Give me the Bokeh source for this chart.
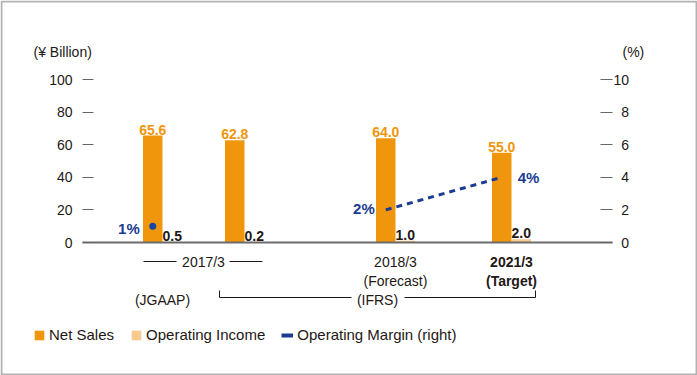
from bokeh.plotting import figure
from bokeh.models import (Range1d, LinearAxis, FixedTicker, Label, Legend, LegendItem, BoxAnnotation,
                          ColumnDataSource, CDSView, IndexFilter, CustomJSTickFormatter)
from bokeh.core.properties import value
from bokeh.embed import file_html
from bokeh.resources import INLINE

# ---------------- data ----------------
categories = ["2017/3 (JGAAP)", "2017/3 (IFRS)", "2018/3 (Forecast)", "2021/3 (Target)"]
net_sales = [65.6, 62.8, 64.0, 55.0]            # ¥ Billion
operating_income = [0.5, 0.2, 1.0, 2.0]         # ¥ Billion
operating_margin = [1.0, float("nan"), 2.0, 4.0]  # %
net_sales_labels = ["65.6", "62.8", "64.0", "55.0"]
op_income_labels = ["0.5", "0.2", "1.0", "2.0"]
margin_labels = ["1%", "", "2%", "4%"]
left_ticks = [0, 20, 40, 60, 80, 100]
right_ticks = [0, 2, 4, 6, 8, 10]
period_labels = ["2017/3", "2018/3", "2021/3"]
period_notes = ["(Forecast)", "(Target)"]
standard_labels = ["(JGAAP)", "(IFRS)"]
legend_labels = ["Net Sales", "Operating Income", "Operating Margin (right)"]
left_unit = "(¥ Billion)"
right_unit = "(%)"

# ---------------- layout / style ----------------
W, H = 697, 375
AXIS_L, AXIS_R = 82, 612            # x of the two value axes
ZERO_PX, TOP_PX = 242, 79           # pixel rows of 0 and 100 on the left axis
ppu = (ZERO_PX - TOP_PX) / 100.0
slot_x = [162, 244, 395, 511]       # group centres (x units = px)
bar_w = 19.5
ORANGE = "#F0960C"
LIGHT = "#F8C98C"
BLUE = "#1B3C92"
DOT = "#1646A4"
TXT = "#231815"
FONT = "Liberation Sans"


def dy(px_below_zero):
    return -px_below_zero / ppu


y_start = -(H - ZERO_PX) / ppu
y_end = ZERO_PX / ppu

p = figure(width=W, height=H, output_backend="svg", toolbar_location=None,
           x_range=Range1d(0, W), y_range=Range1d(y_start, y_end),
           x_axis_location=None, y_axis_location=None,
           min_border_left=0, min_border_right=0, min_border_top=0, min_border_bottom=0)
p.extra_y_ranges = {"pct": Range1d(y_start / 10.0, y_end / 10.0)}
p.grid.visible = False
p.outline_line_color = None
p.background_fill_color = "white"
p.border_fill_color = "white"


def style_axis(ax, tick_in, standoff):
    ax.axis_line_color = None
    ax.major_tick_in = tick_in
    ax.major_tick_out = 0
    ax.minor_tick_line_color = None
    ax.major_tick_line_color = "#666666"
    ax.major_label_standoff = standoff
    ax.major_label_text_font = FONT
    ax.major_label_text_font_size = "14px"
    ax.major_label_text_color = TXT


la = LinearAxis(ticker=FixedTicker(ticks=left_ticks), fixed_location=AXIS_L)
style_axis(la, 11, 10)
p.add_layout(la, "left")

ra = LinearAxis(y_range_name="pct", ticker=FixedTicker(ticks=right_ticks), fixed_location=AXIS_R,
                formatter=CustomJSTickFormatter(code="return (tick < 10 ? '\u2007' : '') + tick;"))
style_axis(ra, 12, 1)
p.add_layout(ra, "right")

# outer frame of the picture
p.add_layout(BoxAnnotation(left=1, right=W - 1, top=y_end - 1 / ppu, bottom=y_start + 1 / ppu,
                           fill_color=None, line_color="#000000", line_width=2, level="overlay"))

# bars
src = ColumnDataSource(dict(
    cat=categories,
    x_ns=[s - bar_w / 2 for s in slot_x],
    x_oi=[s + bar_w / 2 for s in slot_x],
    ns=net_sales, oi=operating_income, margin=operating_margin,
    ns_lab=net_sales_labels, oi_lab=op_income_labels, m_lab=margin_labels,
))
r_ns = p.vbar(x="x_ns", top="ns", bottom=0, width=bar_w, source=src,
              fill_color=ORANGE, line_color=None)
r_oi = p.vbar(x="x_oi", top="oi", bottom=0, width=bar_w, source=src,
              fill_color=LIGHT, line_color=None)

# baseline between the two axes
p.segment(x0=[AXIS_L], y0=[0], x1=[AXIS_R], y1=[0], line_color="#6b6b6b", line_width=2)

# margin line + dot
p.line(x="x_ns", y="margin", source=src, y_range_name="pct",
       line_color=BLUE, line_width=3, line_dash="6 5")
p.scatter(x="x_ns", y="margin", source=src, y_range_name="pct", size=7,
          fill_color=DOT, line_color=None, view=CDSView(filter=IndexFilter([0])))
# legend proxy (solid swatch); NaN point so nothing is drawn in the plot
r_leg_line = p.line(x=[float("nan")], y=[float("nan")], line_color=BLUE, line_width=4,
                    line_dash="solid", line_cap="butt")

# value labels
p.text(x="x_ns", y="ns", text="ns_lab", source=src, text_align="center", text_baseline="bottom",
       y_offset=-1, text_font=value(FONT), text_font_style="bold", text_font_size="14px",
       text_color=ORANGE)
p.text(x="x_oi", y="oi", text="oi_lab", source=src, text_align="center", text_baseline="bottom",
       y_offset=-1, text_font=value(FONT), text_font_style="bold", text_font_size="14px",
       text_color=TXT)

# margin labels
msrc = ColumnDataSource(dict(x=src.data["x_ns"], y=operating_margin, t=margin_labels,
                             xo=[-13, 0, -11, 16], yo=[2, 0, -1, 0]))
p.text(x="x", y="y", text="t", source=msrc, y_range_name="pct", x_offset="xo", y_offset="yo",
       text_align="right", text_baseline="middle", text_font=value(FONT), text_font_style="bold",
       text_font_size="15px", text_color=BLUE, view=CDSView(filter=IndexFilter([0, 2])))
p.text(x="x", y="y", text="t", source=msrc, y_range_name="pct", x_offset="xo", y_offset="yo",
       text_align="left", text_baseline="middle", text_font=value(FONT), text_font_style="bold",
       text_font_size="15px", text_color=BLUE, view=CDSView(filter=IndexFilter([3])))

# category labels
c2017 = (slot_x[0] + slot_x[1]) / 2
p.text(x=[c2017, slot_x[2]], y=[dy(19)] * 2, text=period_labels[:2], text_align="center",
       text_baseline="middle", text_font=value(FONT), text_font_size="14px", text_color=TXT)
p.text(x=[slot_x[2]], y=[dy(38)], text=[period_notes[0]], text_align="center",
       text_baseline="middle", text_font=value(FONT), text_font_size="14px", text_color=TXT)
p.text(x=[slot_x[3], slot_x[3]], y=[dy(19), dy(38)], text=[period_labels[2], period_notes[1]],
       text_align="center", text_baseline="middle", text_font=value(FONT),
       text_font_style="bold", text_font_size="14px", text_color=TXT)

br_l, br_r = slot_x[1] - 25, slot_x[3] + 24
ifrs_c = (br_l + br_r) / 2
p.text(x=[slot_x[0], ifrs_c], y=[dy(57)] * 2, text=standard_labels, text_align="center",
       text_baseline="middle", text_font=value(FONT), text_font_size="14px", text_color=TXT)

# decorative lines around 2017/3 and the IFRS bracket
seg_x0 = [c2017 - 60, c2017 + 26, br_l, br_l, ifrs_c + 27, br_r]
seg_x1 = [c2017 - 27, c2017 + 59, br_l, ifrs_c - 26, br_r, br_r]
seg_y0 = [dy(19), dy(19), dy(48), dy(55), dy(55), dy(48)]
seg_y1 = [dy(19), dy(19), dy(55), dy(55), dy(55), dy(55)]
p.segment(x0=seg_x0, y0=seg_y0, x1=seg_x1, y1=seg_y1, line_color=TXT, line_width=1)

# unit labels
p.add_layout(Label(x=33, y=H - 43, x_units="screen", y_units="screen",
                   text=left_unit, text_baseline="top", text_font=FONT,
                   text_font_size="14px", text_color=TXT))
p.add_layout(Label(x=622, y=H - 43, x_units="screen", y_units="screen",
                   text=right_unit, text_baseline="top", text_font=FONT,
                   text_font_size="14px", text_color=TXT))

# legend
legend = Legend(items=[LegendItem(label=legend_labels[0], renderers=[r_ns]),
                       LegendItem(label=legend_labels[1], renderers=[r_oi]),
                       LegendItem(label=legend_labels[2], renderers=[r_leg_line])],
                orientation="horizontal", location=(33, H - 343),
                glyph_width=12, glyph_height=12, label_standoff=4, spacing=16,
                padding=0, margin=0, border_line_color=None, background_fill_alpha=0,
                label_text_font=FONT, label_text_font_size="15px", label_text_color=TXT)
p.add_layout(legend)

open("out.html", "w").write(file_html(p, INLINE))
